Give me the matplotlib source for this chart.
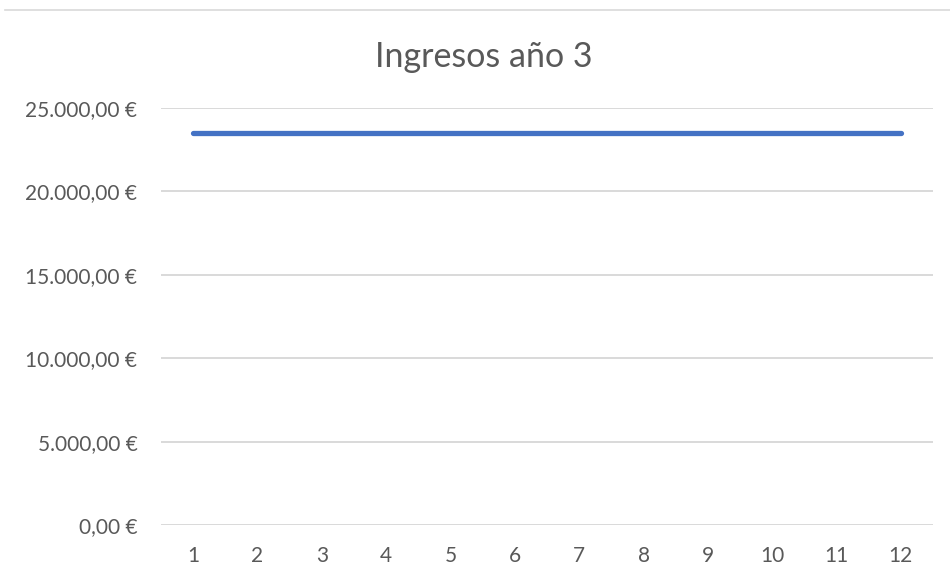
import matplotlib.pyplot as plt
from matplotlib.lines import Line2D
from matplotlib.ticker import FuncFormatter

# monthly income, year 3
meses = [1, 2, 3, 4, 5, 6, 7, 8, 9, 10, 11, 12]
ingresos = [23500] * 12
y_ticks = [0, 5000, 10000, 15000, 20000, 25000]

TEXT = '#595959'
GRID = '#d9d9d9'
BLUE = '#4472c4'

plt.rcParams['font.family'] = ['Lato', 'DejaVu Sans']


def euro(v, pos=None):
    s = f"{v:,.2f}".replace(',', 'X').replace('.', ',').replace('X', '.')
    return f"{s} €"


fig = plt.figure(figsize=(9.5, 5.7), dpi=100)
ax = fig.add_axes([0.1695, 0.0789, 0.8126, 0.7316])

ax.plot(meses, ingresos, color=BLUE, linewidth=3.8, solid_capstyle='round')

ax.set_xlim(0.5, 12.5)
ax.set_ylim(0, 25000)
ax.set_xticks(meses)
ax.set_yticks(y_ticks)
ax.yaxis.set_major_formatter(FuncFormatter(euro))

ax.grid(axis='y', color=GRID, linewidth=1.4)
ax.set_axisbelow(True)
for s in ax.spines.values():
    s.set_visible(False)
ax.tick_params(length=0, labelsize=15, colors=TEXT)
ax.tick_params(axis='y', pad=17)
ax.tick_params(axis='x', pad=15)

fig.text(0.509, 0.9, 'Ingresos año 3', ha='center', va='center',
         fontsize=24.5, color=TEXT)

# thin frame edge along the top
fig.add_artist(Line2D([0.005, 1.0], [0.982, 0.982], color=GRID,
                      linewidth=1.2, transform=fig.transFigure))

fig.savefig('out.png', dpi=100)
